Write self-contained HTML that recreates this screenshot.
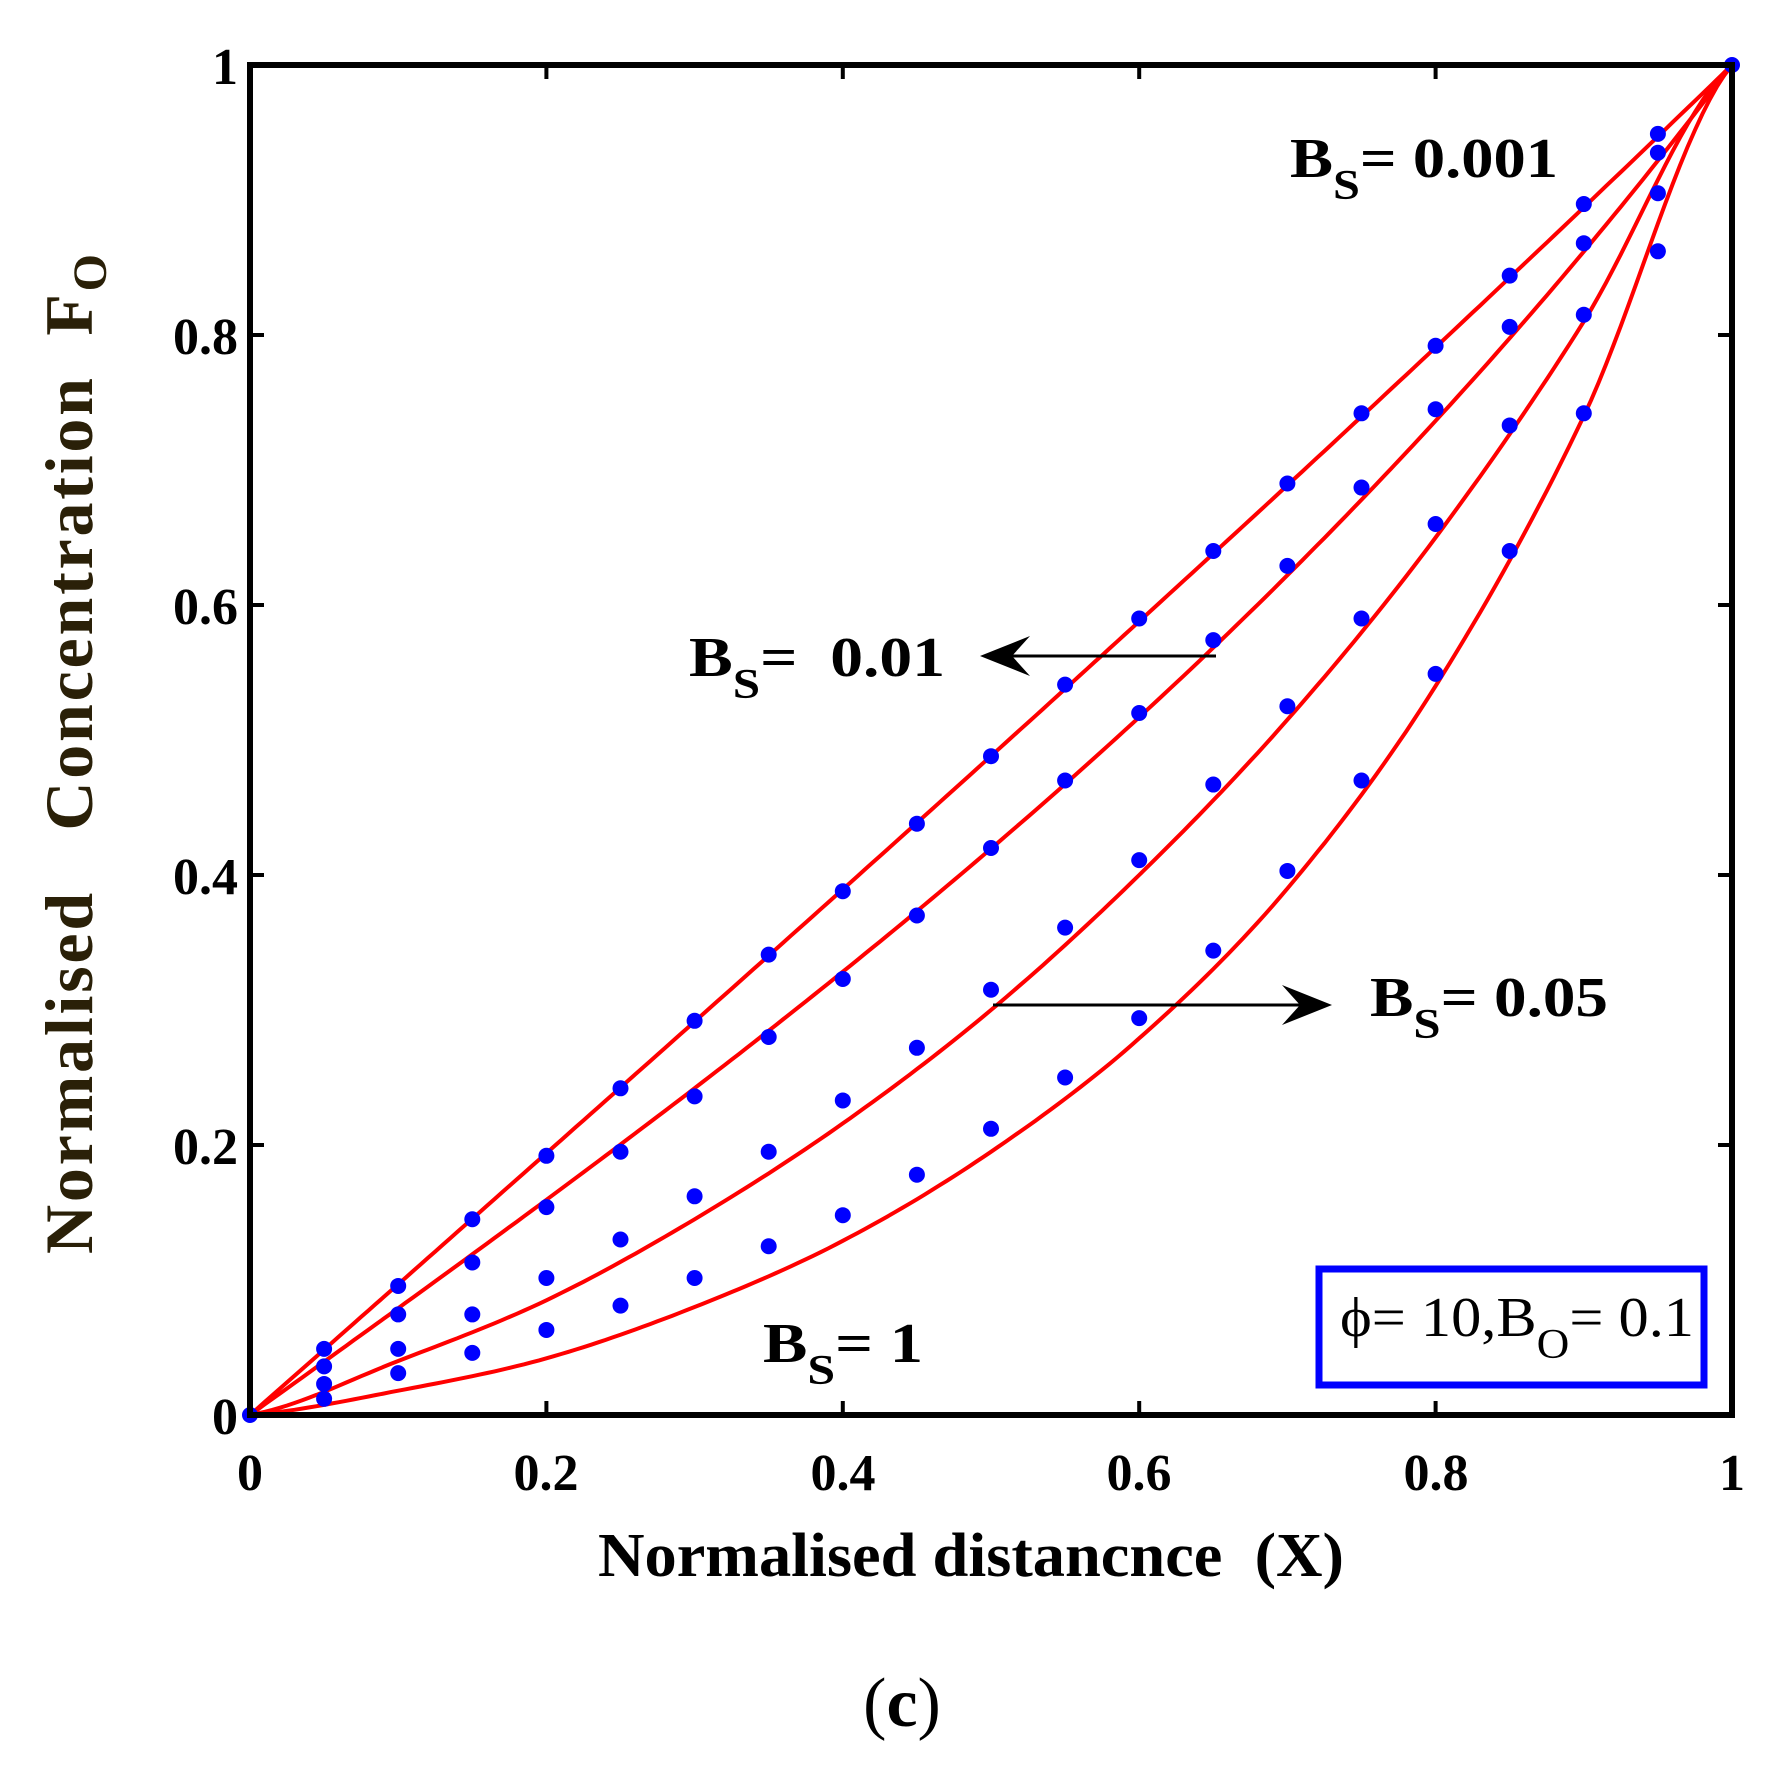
<!DOCTYPE html>
<html><head><meta charset="utf-8">
<style>
html,body{margin:0;padding:0;background:#fff;}
svg{display:block;}
text{font-family:"Liberation Serif",serif;font-weight:bold;fill:#000;}
</style></head>
<body>
<svg id="s" width="1790" height="1768" viewBox="0 0 1790 1768" xmlns="http://www.w3.org/2000/svg">
<g id="curves"></g>
<g id="dots"></g>
<rect x="250" y="65" width="1482" height="1350" fill="none" stroke="#000" stroke-width="6"/>
<g id="ticks" stroke="#000" stroke-width="4"></g>
<g font-size="52" text-anchor="middle">
<text x="250" y="1490">0</text><text x="546" y="1490">0.2</text><text x="843" y="1490">0.4</text>
<text x="1139" y="1490">0.6</text><text x="1436" y="1490">0.8</text><text x="1732" y="1490">1</text>
</g>
<g font-size="52" text-anchor="end">
<text x="238" y="1434">0</text><text x="238" y="1164">0.2</text><text x="238" y="894">0.4</text>
<text x="238" y="624">0.6</text><text x="238" y="354">0.8</text><text x="238" y="84">1</text>
</g>
<text transform="translate(92,754) rotate(-90)" font-size="68" text-anchor="middle" textLength="1000" lengthAdjust="spacing" style="fill:#2a2008">Normalised&#160;&#160;&#160;Concentration&#160;&#160;F<tspan font-size="48" dy="14">O</tspan></text>
<text x="971" y="1576" font-size="62" text-anchor="middle" textLength="746" lengthAdjust="spacingAndGlyphs">Normalised distancnce&#160;&#160;(X)</text>
<text x="902" y="1726" font-size="70" text-anchor="middle" style="font-weight:normal">(<tspan font-weight="bold">c</tspan>)</text>
<text x="1290" y="177" font-size="56" textLength="268" lengthAdjust="spacingAndGlyphs">B<tspan font-size="42" dy="22">S</tspan><tspan dy="-22">= 0.001</tspan></text>
<text x="689" y="676" font-size="56" textLength="256" lengthAdjust="spacingAndGlyphs">B<tspan font-size="42" dy="22">S</tspan><tspan dy="-22">=&#160;&#160;0.01</tspan></text>
<text x="1370" y="1016" font-size="56" textLength="238" lengthAdjust="spacingAndGlyphs">B<tspan font-size="42" dy="22">S</tspan><tspan dy="-22">= 0.05</tspan></text>
<text x="763" y="1362" font-size="56" textLength="160" lengthAdjust="spacingAndGlyphs">B<tspan font-size="42" dy="22">S</tspan><tspan dy="-22">= 1</tspan></text>
<line x1="1216" y1="656" x2="990" y2="656" stroke="#000" stroke-width="3"/>
<path d="M980,656 L1030,636 L1012,656 L1030,676 Z" fill="#000"/>
<line x1="993" y1="1005" x2="1320" y2="1005" stroke="#000" stroke-width="3"/>
<path d="M1332,1005 L1282,985 L1300,1005 L1282,1025 Z" fill="#000"/>
<rect x="1319" y="1269" width="385" height="116" fill="#fff" stroke="#0000ff" stroke-width="7"/>
<text x="1340" y="1336" font-size="56" textLength="354" lengthAdjust="spacingAndGlyphs" style="font-weight:normal">ϕ= 10,B<tspan font-size="42" dy="22">O</tspan><tspan dy="-22">= 0.1</tspan></text>
</svg>
<script>
var X=function(x){return 250+1482*x}, Y=function(f){return 1415-1350*f};
function sh(a){return function(x){return Math.sinh(a*x)/Math.sinh(a)}}
var ns="http://www.w3.org/2000/svg";
function interp(pts){return function(x){for(var i=0;i<pts.length-1;i++){if(x<=pts[i+1][0]){var t=(x-pts[i][0])/(pts[i+1][0]-pts[i][0]);
 var p0=pts[Math.max(i-1,0)][1],p1=pts[i][1],p2=pts[i+1][1],p3=pts[Math.min(i+2,pts.length-1)][1];
 return 0.5*((2*p1)+(-p0+p2)*t+(2*p0-5*p1+4*p2-p3)*t*t+(-p0+3*p1-3*p2+p3)*t*t*t);}}return 1;}}
var c3=interp([[0,0],[0.1,0.04],[0.2,0.085],[0.3,0.145],[0.4,0.216],[0.5,0.30],[0.6,0.40],[0.7,0.515],[0.8,0.65],[0.9,0.81],[1,1]]);
var c4=interp([[0,0],[0.1,0.018],[0.2,0.042],[0.3,0.08],[0.4,0.129],[0.5,0.195],[0.6,0.279],[0.7,0.39],[0.8,0.54],[0.9,0.74],[1,1]]);
var fs=[sh(0.44),sh(1.22),c3,c4];
var g=document.getElementById('curves');
fs.forEach(function(f){var d='';for(var i=0;i<=200;i++){var x=i/200;d+=(i?'L':'M')+X(x).toFixed(1)+','+Y(f(x)).toFixed(1);}
 var p=document.createElementNS(ns,'path');p.setAttribute('d',d);p.setAttribute('fill','none');p.setAttribute('stroke','#ff0000');p.setAttribute('stroke-width','4');g.appendChild(p);});
var D=[
[0.049,0.0956,0.145,0.192,0.242,0.292,0.341,0.388,0.438,0.488,0.541,0.59,0.64,0.69,0.742,0.792,0.844,0.897,0.949],
[0.036,0.0745,0.113,0.154,0.195,0.236,0.28,0.323,0.37,0.42,0.47,0.52,0.574,0.629,0.687,0.745,0.806,0.868,0.935],
[0.023,0.049,0.0745,0.1015,0.13,0.162,0.195,0.233,0.272,0.315,0.361,0.411,0.467,0.525,0.59,0.66,0.733,0.815,0.905],
[0.012,0.031,0.046,0.063,0.081,0.1015,0.125,0.148,0.178,0.212,0.25,0.294,0.344,0.403,0.47,0.549,0.64,0.742,0.862]];
var gd=document.getElementById('dots');
function dot(x,f){var c=document.createElementNS(ns,'circle');c.setAttribute('cx',X(x));c.setAttribute('cy',Y(f));c.setAttribute('r',8);c.setAttribute('fill','#0000ff');gd.appendChild(c);}
D.forEach(function(r){r.forEach(function(f,i){dot((i+1)*0.05,f);});});
dot(0,0);dot(1,1);
var gt=document.getElementById('ticks');
function ln(a,b,c,d){var l=document.createElementNS(ns,'line');l.setAttribute('x1',a);l.setAttribute('y1',b);l.setAttribute('x2',c);l.setAttribute('y2',d);gt.appendChild(l);}
for(var k=1;k<5;k++){var v=k*0.2;ln(X(v),1415,X(v),1401);ln(X(v),65,X(v),79);ln(250,Y(v),264,Y(v));ln(1732,Y(v),1718,Y(v));}
</script>
</body></html>
